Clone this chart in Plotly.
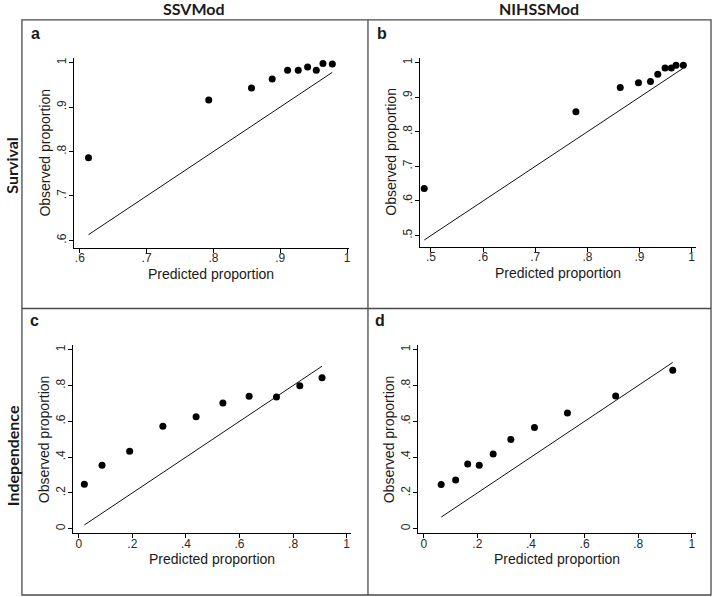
import plotly.graph_objects as go

W, H = 715, 597
FONT = "Liberation Sans, Arial, sans-serif"
HEAD = "Lato, Calibri, sans-serif"
FRAME = "#4a4a4a"

# panel a: SSVMod / survival
a_pred = [0.613, 0.793, 0.857, 0.888, 0.911, 0.927, 0.941, 0.954, 0.964, 0.978]
a_obs = [0.786, 0.916, 0.943, 0.963, 0.983, 0.983, 0.990, 0.983, 0.998, 0.997]
# panel b: NIHSSMod / survival
b_pred = [0.487, 0.778, 0.863, 0.898, 0.921, 0.935, 0.949, 0.961, 0.970, 0.984]
b_obs = [0.636, 0.858, 0.928, 0.942, 0.945, 0.966, 0.984, 0.984, 0.992, 0.992]
# panel c: SSVMod / independence
c_pred = [0.021, 0.087, 0.190, 0.314, 0.438, 0.538, 0.636, 0.738, 0.825, 0.908]
c_obs = [0.249, 0.355, 0.433, 0.572, 0.625, 0.703, 0.740, 0.736, 0.799, 0.844]
# panel d: NIHSSMod / independence
d_pred = [0.065, 0.119, 0.164, 0.207, 0.259, 0.325, 0.413, 0.536, 0.716, 0.929]
d_obs = [0.247, 0.273, 0.361, 0.355, 0.418, 0.499, 0.566, 0.647, 0.742, 0.885]

surv_ticks_a = [0.6, 0.7, 0.8, 0.9, 1]
surv_ticks_b = [0.5, 0.6, 0.7, 0.8, 0.9, 1]
ind_ticks = [0, 0.2, 0.4, 0.6, 0.8, 1]


def lab(v):
    if v == 0:
        return "0"
    if v == 1:
        return "1"
    return ("%g" % v).lstrip("0")


# (pred, obs, xrange, yrange, xticks, yticks, pixel box x0, x1, y0, y1, letter)
panels = [
    (a_pred, a_obs, [0.591, 1.003], [0.584, 1.0105], surv_ticks_a, surv_ticks_a,
     74, 350, 57, 247, "a"),
    (b_pred, b_obs, [0.478, 1.009], [0.468, 1.0144], surv_ticks_b, surv_ticks_b,
     420.7, 698.3, 56.7, 246, "b"),
    (c_pred, c_obs, [-0.021, 1.015], [-0.026, 1.028], ind_ticks, ind_ticks,
     73.3, 351.7, 344.3, 533.3, "c"),
    (d_pred, d_obs, [-0.021, 1.017], [-0.026, 1.028], ind_ticks, ind_ticks,
     419.3, 698.3, 344.3, 533.3, "d"),
]


def note(text, x, y, size, family=FONT, angle=0, xanchor="center"):
    return dict(text=text, x=x / W, y=1 - y / H, xref="paper", yref="paper",
                showarrow=False, textangle=angle, xanchor=xanchor, yanchor="middle",
                font=dict(family=family, size=size, color="#1a1a1a"))


fig = go.Figure()
ann = []
layout = {}
for i, (px, py, xr, yr, xt, yt, x0, x1, y0, y1, letter) in enumerate(panels):
    n = "" if i == 0 else str(i + 1)
    xa, ya = "x" + n, "y" + n
    diag = [min(px), max(px)]
    fig.add_scatter(x=diag, y=diag, mode="lines", xaxis=xa, yaxis=ya,
                    line=dict(color="#111111", width=1), hoverinfo="skip")
    fig.add_scatter(x=px, y=py, mode="markers", xaxis=xa, yaxis=ya,
                    marker=dict(color="black", size=7))
    common = dict(showline=True, linecolor="black", linewidth=1, ticks="outside",
                  ticklen=4, tickcolor="black", showgrid=False, zeroline=False,
                  tickfont=dict(family=FONT, size=12, color="#2a2a2a"), fixedrange=True)
    layout["xaxis" + n] = dict(common, domain=[x0 / W, x1 / W], range=xr, anchor=ya,
                               tickvals=xt, ticktext=[lab(v) for v in xt],
                               ticklabelstandoff=-5)
    layout["yaxis" + n] = dict(common, domain=[1 - y1 / H, 1 - y0 / H], range=yr, anchor=xa,
                               tickvals=yt, ticktext=[lab(v) for v in yt], tickangle=-90,
                               ticklabelstandoff=-2)
    ann.append(note("Predicted proportion", (x0 + x1) / 2, y1 + 26, 14))
    ann.append(note("Observed proportion", x0 - 29, (y0 + y1) / 2, 14, angle=-90))
    ann.append(note("<b>%s</b>" % letter, x0 - 45, y0 - 24, 16, xanchor="left"))

ann += [
    note("<b>SSVMod</b>", 195, 8, 16, HEAD),
    note("<b>NIHSSMod</b>", 541, 8, 16, HEAD),
    note("<b>Survival</b>", 12, 165, 16, HEAD, angle=-90),
    note("<b>Independence</b>", 12, 455, 16, HEAD, angle=-90),
]

shapes = [
    dict(type="rect", x0=22 / W, x1=713 / W, y0=1 - 595 / H, y1=1 - 19 / H),
    dict(type="line", x0=369 / W, x1=369 / W, y0=1 - 595 / H, y1=1 - 19 / H),
    dict(type="line", x0=22 / W, x1=713 / W, y0=1 - 308 / H, y1=1 - 308 / H),
]
for s in shapes:
    s.update(xref="paper", yref="paper", line=dict(color=FRAME, width=1.3))

fig.update_layout(width=W, height=H, margin=dict(l=0, r=0, t=0, b=0),
                  paper_bgcolor="white", plot_bgcolor="white", showlegend=False,
                  annotations=ann, shapes=shapes, **layout)
fig.write_html("out.html", config={"displayModeBar": False},
               post_script="document.body.style.margin='0';")
